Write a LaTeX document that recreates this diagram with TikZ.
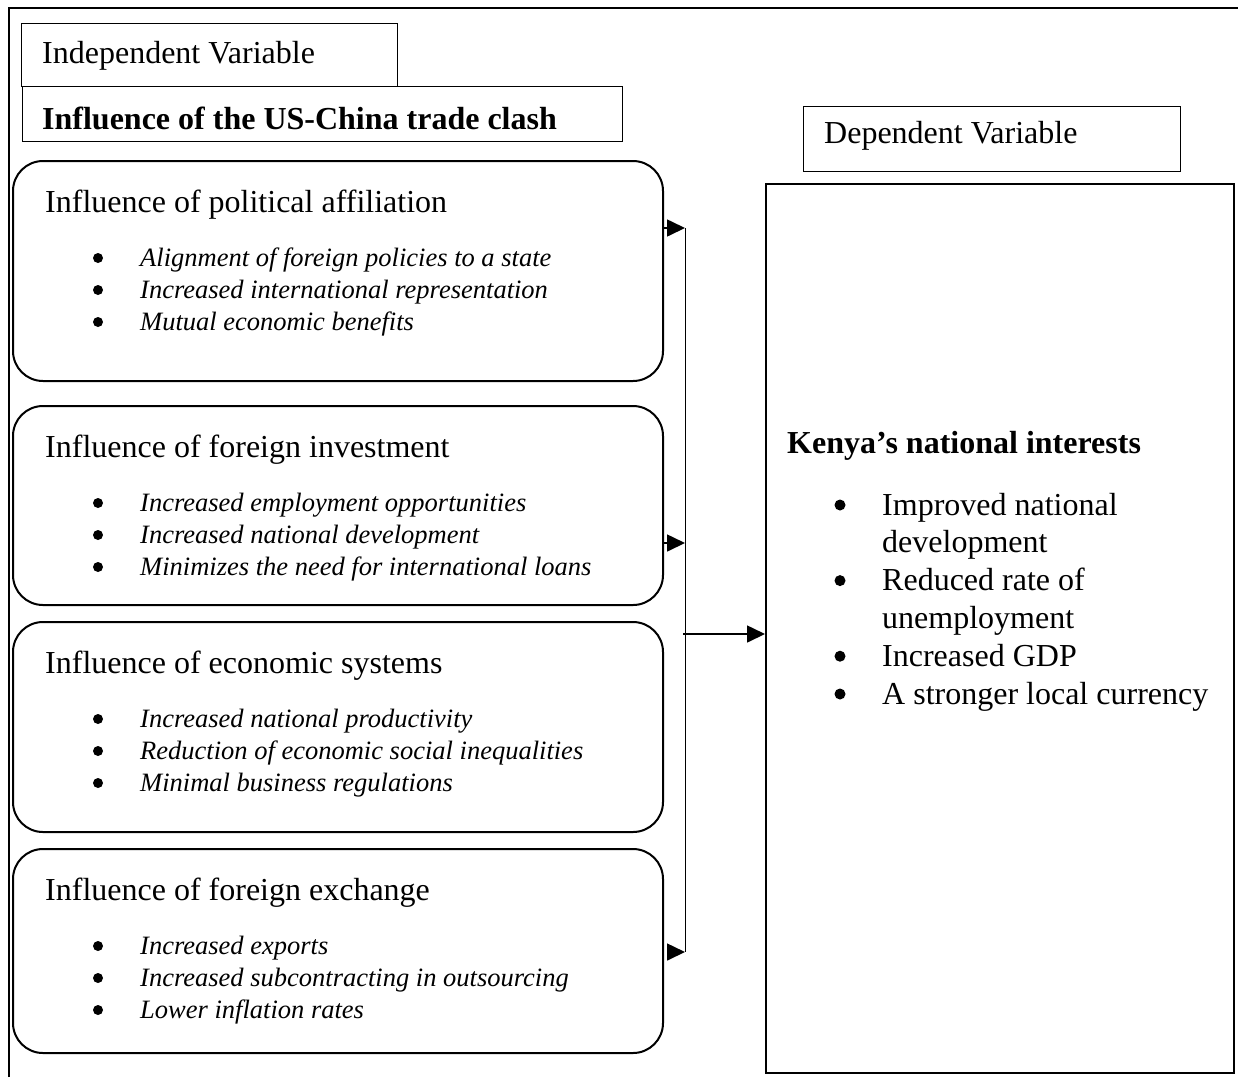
\documentclass[tikz,border=0pt]{standalone}
\usepackage{fontspec}
\setmainfont{Liberation Serif}
\usetikzlibrary{positioning}
\usetikzlibrary{calc}
\usetikzlibrary{arrows.meta}

\tikzset{
  every node/.style={inner sep=0pt},
  varbox/.style={draw,line width=1.3pt,anchor=north west},
  factor/.style={draw,line width=2pt,rounded corners=30pt,anchor=north west,minimum width=650pt},
  bigtext/.style={anchor=base west,font=\fontsize{32}{38}\selectfont},
  itemtext/.style={anchor=base west,font=\fontsize{26.5}{32}\selectfont\itshape},
  dot/.style={circle,fill,minimum size=10pt},
  flow/.style={line width=1.6pt,-{Triangle[length=18pt,width=17pt]}},
}

\begin{document}
\begin{tikzpicture}[x=1pt,y=-1pt]
	\useasboundingbox (0,0) rectangle (1238,1077);
	
	% outer frame
	\coordinate (fbl) at (9,1077);
	\coordinate (ftr) at (1238,8);
	\draw[line width=2pt] (fbl) |- (ftr);
	
	% Independent side
	\node[varbox,minimum width=376pt,minimum height=63pt] (iv) at (21,23) {};
	\node[bigtext] (iv label) at ($(iv.north west)+(21,40)$) {Independent Variable};
	\node[varbox,line width=1pt,minimum width=600pt,minimum height=55pt] (clash) at (22,86) {};
	\node[bigtext,font=\fontsize{32}{38}\selectfont\bfseries] (clash label) at ($(clash.north west)+(20,43)$) {Influence of the US-China trade clash};
	
	\foreach \name/\top/\ht/\head/\ia/\ib/\ic in {
		pol/160/220/{Influence of political affiliation}/{Alignment of foreign policies to a state}/{Increased international representation}/{Mutual economic benefits},
		inv/405/199/{Influence of foreign investment}/{Increased employment opportunities}/{Increased national development}/{Minimizes the need for international loans},
		eco/621/210/{Influence of economic systems}/{Increased national productivity}/{Reduction of economic social inequalities}/{Minimal business regulations},
		exc/848/204/{Influence of foreign exchange}/{Increased exports}/{Increased subcontracting in outsourcing}/{Lower inflation rates}}
	{
		\node[factor,minimum height=\ht pt] (\name) at (12,\top) {};
		\node[bigtext] (\name head) at ($(\name.north west)+(33,52)$) {\head};
		\foreach \txt [count=\k] in {\ia,\ib,\ic}
		{
			\node[itemtext] (\name-\k) at ($(\name.north west)+(128,{106+(\k-1)*32})$) {\txt};
			\node[dot] at ($(\name-\k.base west)+(-42,-8)$) {};
		}
	}
	
	% Dependent side
	\node[varbox,minimum width=377pt,minimum height=65pt] (dv) at (803,106) {};
	\node[bigtext] (dv label) at ($(dv.north west)+(21,37)$) {Dependent Variable};
	
	\node[draw,line width=2pt,anchor=north west,minimum width=468pt,minimum height=889pt] (kenya) at (765,183) {};
	\node[bigtext,font=\fontsize{32}{38}\selectfont\bfseries] (kenya head) at ($(kenya.north west)+(22,270)$) {Kenya’s national interests};
	\foreach \txt [count=\k] in {Improved national,development,Reduced rate of,unemployment,Increased GDP,A stronger local currency}
		\node[bigtext] (kenya-\k) at ($(kenya.north west)+(117,{332+(\k-1)*37.8})$) {\txt};
	\foreach \k in {1,3,5,6}
		\node[dot,minimum size=11pt] at ($(kenya-\k.base west)+(-42,-10)$) {};
	
	% connectors
	\coordinate (bus top) at (685,228);
	\coordinate (bus bot) at (685,952);
	\coordinate (j2) at (685,543);
	\coordinate (hub) at (683,634);
	\draw[line width=1pt] (bus top) -- (bus bot);
	\draw[flow] (pol.east |- bus top) -- (bus top);
	\draw[flow] (inv.east |- j2) -- (j2);
	\draw[flow] ($(exc.east |- bus bot)+(5,0)$) -- (bus bot);
	\draw[flow] (hub) -- (hub -| kenya.west);
\end{tikzpicture}
\end{document}
